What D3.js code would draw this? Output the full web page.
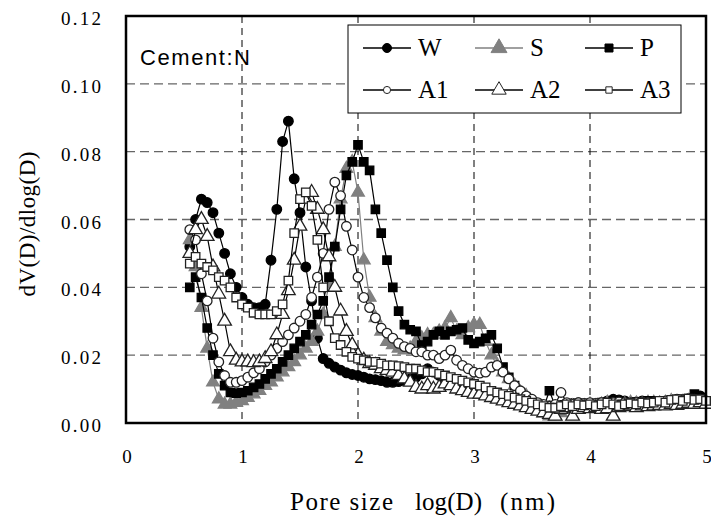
<!DOCTYPE html>
<html>
<head>
<meta charset="utf-8">
<script src="https://cdn.jsdelivr.net/npm/d3@7"></script>
<style>
  body { margin: 0; background: #fff; }
  svg { display: block; }
</style>
</head>
<body>
<div id="chart"></div>
<script>
// log(D) grid shared by all six curves
const logD = [
  0.55, 0.60, 0.65, 0.70, 0.75, 0.80, 0.85, 0.90, 0.95, 1.00,
  1.05, 1.10, 1.15, 1.20, 1.25, 1.30, 1.35, 1.40, 1.45, 1.50,
  1.55, 1.60, 1.65, 1.70, 1.75, 1.80, 1.85, 1.90, 1.95, 2.00,
  2.05, 2.10, 2.15, 2.20, 2.25, 2.30, 2.35, 2.40, 2.45, 2.50,
  2.55, 2.60, 2.65, 2.70, 2.75, 2.80, 2.85, 2.90, 2.95, 3.00,
  3.05, 3.10, 3.15, 3.20, 3.25, 3.30, 3.35, 3.40, 3.45, 3.50,
  3.55, 3.60, 3.65, 3.70, 3.75, 3.80, 3.85, 3.90, 3.95, 4.00,
  4.05, 4.10, 4.15, 4.20, 4.25, 4.30, 4.35, 4.40, 4.45, 4.50,
  4.55, 4.60, 4.65, 4.70, 4.75, 4.80, 4.85, 4.90, 4.95, 5.00
];

const W = [
  0.052, 0.060, 0.066, 0.065, 0.062, 0.056, 0.050, 0.044, 0.040, 0.037,
  0.035, 0.034, 0.034, 0.035, 0.048, 0.063, 0.083, 0.089, 0.072, 0.062,
  0.046, 0.036, 0.025, 0.019, 0.0176, 0.0165, 0.0156, 0.0148, 0.0143, 0.014,
  0.0135, 0.013, 0.0128, 0.0125, 0.012, 0.012, 0.0122, 0.0125, 0.013, 0.0135,
  0.0145, 0.016, 0.015, 0.014, 0.013, 0.0125, 0.012, 0.0115, 0.011, 0.0105,
  0.010, 0.0095, 0.009, 0.0085, 0.008, 0.0075, 0.007, 0.0065, 0.006, 0.0058,
  0.0055, 0.0052, 0.005, 0.005, 0.0052, 0.0055, 0.0058, 0.006, 0.0058, 0.0056,
  0.0058, 0.006, 0.0065, 0.007, 0.0068, 0.0065, 0.006, 0.0062, 0.0065, 0.006,
  0.0062, 0.0064, 0.006, 0.0065, 0.007, 0.0068, 0.0072, 0.0075, 0.008, 0.0065
];

const S = [
  0.054, 0.046, 0.034, 0.022, 0.012, 0.007, 0.0055, 0.0055, 0.006, 0.0065,
  0.0075, 0.0085, 0.0095, 0.011, 0.012, 0.0135, 0.015, 0.0165, 0.018, 0.020,
  0.022, 0.024, 0.027, 0.032, 0.041, 0.052, 0.066, 0.075, 0.077, 0.068,
  0.048, 0.037, 0.031, 0.027, 0.024, 0.023, 0.022, 0.0215, 0.022, 0.024,
  0.025, 0.026, 0.026, 0.027, 0.028, 0.031, 0.027, 0.026, 0.028, 0.029,
  0.029, 0.024, 0.020, 0.017, 0.015, 0.013, 0.011, 0.009, 0.008, 0.006,
  0.005, 0.003, 0.002, 0.002, 0.003, 0.004, 0.005, 0.0045, 0.005, 0.0055,
  0.005, 0.0055, 0.006, 0.0055, 0.005, 0.0055, 0.006, 0.0058, 0.0055, 0.006,
  0.006, 0.0058, 0.006, 0.0065, 0.006, 0.0062, 0.0065, 0.006, 0.0062, 0.006
];

const P = [
  0.040, 0.043, 0.037, 0.028, 0.020, 0.0145, 0.011, 0.009, 0.0088, 0.009,
  0.0095, 0.0105, 0.0115, 0.013, 0.0145, 0.016, 0.018, 0.020, 0.022, 0.024,
  0.026, 0.029, 0.032, 0.036, 0.043, 0.052, 0.063, 0.073, 0.077, 0.082,
  0.077, 0.0745, 0.063, 0.056, 0.048, 0.040, 0.033, 0.029, 0.0275, 0.027,
  0.023, 0.024, 0.026, 0.027, 0.026, 0.027, 0.0275, 0.028, 0.0245, 0.0235,
  0.024, 0.025, 0.026, 0.022, 0.0165, 0.0135, 0.011, 0.009, 0.0075, 0.006,
  0.005, 0.0045, 0.0095, 0.005, 0.004, 0.0045, 0.005, 0.0055, 0.0052, 0.0055,
  0.0055, 0.006, 0.006, 0.0065, 0.006, 0.0058, 0.006, 0.0062, 0.006, 0.0065,
  0.0065, 0.006, 0.0062, 0.0065, 0.0068, 0.007, 0.0072, 0.0085, 0.0075, 0.0065
];

const A1 = [
  0.057, 0.054, 0.044, 0.036, 0.025, 0.018, 0.014, 0.012, 0.012, 0.0125,
  0.0135, 0.0148, 0.016, 0.018, 0.020, 0.022, 0.024, 0.026, 0.028, 0.030,
  0.032, 0.037, 0.043, 0.050, 0.063, 0.071, 0.067, 0.058, 0.051, 0.043,
  0.037, 0.034, 0.031, 0.028, 0.0265, 0.025, 0.0235, 0.0225, 0.022, 0.021,
  0.021, 0.020, 0.020, 0.019, 0.020, 0.0215, 0.0185, 0.017, 0.016, 0.015,
  0.0147, 0.015, 0.0165, 0.017, 0.015, 0.013, 0.011, 0.0095, 0.008, 0.007,
  0.006, 0.0055, 0.005, 0.0055, 0.009, 0.006, 0.0055, 0.006, 0.0058, 0.006,
  0.0058, 0.006, 0.0055, 0.006, 0.0062, 0.006, 0.0058, 0.006, 0.0062, 0.006,
  0.006, 0.0062, 0.0065, 0.006, 0.0065, 0.0068, 0.0065, 0.007, 0.0068, 0.0065
];

const A2 = [
  0.050, 0.057, 0.060, 0.055, 0.046, 0.038, 0.030, 0.021, 0.0185, 0.018,
  0.018, 0.0178, 0.018, 0.019, 0.021, 0.026, 0.032, 0.039, 0.048, 0.058,
  0.066, 0.068, 0.063, 0.057, 0.049, 0.040, 0.033, 0.027, 0.023, 0.020,
  0.0185, 0.0175, 0.017, 0.016, 0.0155, 0.015, 0.014, 0.013, 0.012, 0.0105,
  0.010, 0.011, 0.010, 0.0105, 0.0115, 0.011, 0.010, 0.0095, 0.009, 0.0085,
  0.0085, 0.008, 0.0075, 0.007, 0.0065, 0.006, 0.0055, 0.005, 0.0045, 0.004,
  0.0035, 0.003, 0.0025, 0.002, 0.004, 0.0045, 0.002, 0.004, 0.0045, 0.0042,
  0.0045, 0.004, 0.0042, 0.002, 0.0045, 0.0048, 0.005, 0.0045, 0.005, 0.0048,
  0.005, 0.0052, 0.005, 0.0055, 0.0052, 0.0055, 0.0058, 0.0055, 0.006, 0.0055
];

const A3 = [
  0.047, 0.049, 0.047, 0.046, 0.045, 0.043, 0.042, 0.040, 0.037, 0.035,
  0.034, 0.0325, 0.032, 0.032, 0.032, 0.033, 0.035, 0.042, 0.056, 0.066,
  0.068, 0.064, 0.054, 0.040, 0.030, 0.025, 0.023, 0.021, 0.0195, 0.019,
  0.0185, 0.018, 0.018, 0.0175, 0.017, 0.017, 0.0168, 0.0165, 0.016, 0.016,
  0.0155, 0.015, 0.015, 0.0145, 0.014, 0.0135, 0.013, 0.0125, 0.012, 0.0115,
  0.011, 0.0105, 0.0095, 0.009, 0.0085, 0.008, 0.0075, 0.007, 0.0065, 0.006,
  0.0055, 0.005, 0.0045, 0.0045, 0.005, 0.0055, 0.005, 0.0055, 0.0052, 0.0055,
  0.005, 0.0055, 0.006, 0.0055, 0.005, 0.0055, 0.0058, 0.0055, 0.006, 0.0058,
  0.006, 0.0065, 0.006, 0.0068, 0.007, 0.0065, 0.0072, 0.0068, 0.007, 0.0065
];

const xTicks = [0, 1, 2, 3, 4, 5];
const yTicks = [0, 0.02, 0.04, 0.06, 0.08, 0.10, 0.12];
const seriesNames = ["W", "S", "P", "A1", "A2", "A3"];

(function() {
  const width = 711, height = 519;
  const left = 126, right = 706, top = 16, bottom = 423;
  const serif = "'Liberation Serif', 'Times New Roman', serif";

  const svg = d3.select("#chart").append("svg")
    .attr("width", width).attr("height", height);

  const x = d3.scaleLinear().domain([0, 5]).range([left, right]);
  const y = d3.scaleLinear().domain([0, 0.12]).range([bottom, top]);

  // grid: gray dashed horizontals, black dashed verticals
  svg.append("g").selectAll("line")
    .data(yTicks.filter(v => v > 0 && v < 0.12))
    .join("line")
    .attr("x1", left).attr("x2", right)
    .attr("y1", d => y(d)).attr("y2", d => y(d))
    .attr("stroke", "#666").attr("stroke-width", 1.3)
    .attr("stroke-dasharray", "9,5");

  svg.append("g").selectAll("line")
    .data(xTicks.filter(v => v > 0 && v < 5))
    .join("line")
    .attr("x1", d => x(d)).attr("x2", d => x(d))
    .attr("y1", top).attr("y2", bottom)
    .attr("stroke", "#000").attr("stroke-width", 1)
    .attr("stroke-dasharray", "7,5");

  // tick labels
  svg.append("g").selectAll("text")
    .data(yTicks)
    .join("text")
    .attr("x", 101).attr("y", d => y(d) + 9)
    .attr("text-anchor", "end")
    .attr("textLength", 40).attr("lengthAdjust", "spacing")
    .style("font-family", serif).style("font-size", "19px")
    .text(d => d.toFixed(2));

  svg.append("g").selectAll("text")
    .data(xTicks)
    .join("text")
    .attr("x", d => x(d) + 1).attr("y", 463)
    .attr("text-anchor", "middle")
    .style("font-family", serif).style("font-size", "19px")
    .text(d => d);

  // axis titles
  [["Pore size", 290, 103], ["log(D)", 415, 67], ["(nm)", 500, 55]].forEach(t => {
    svg.append("text")
      .attr("x", t[1]).attr("y", 510)
      .attr("textLength", t[2]).attr("lengthAdjust", "spacing")
      .style("font-family", serif).style("font-size", "25px")
      .text(t[0]);
  });

  svg.append("text")
    .attr("transform", "translate(35,224) rotate(-90)")
    .attr("text-anchor", "middle")
    .attr("textLength", 145).attr("lengthAdjust", "spacing")
    .style("font-family", serif).style("font-size", "23px")
    .text("dV(D)/dlog(D)");

  // series styles
  const styles = {
    W:  { values: W,  line: "#000", fill: "#000", stroke: "#000", shape: d3.symbolCircle, size: 72 },
    S:  { values: S,  line: "#808080", fill: "#808080", stroke: "#808080", shape: d3.symbolTriangle, size: 70 },
    P:  { values: P,  line: "#000", fill: "#000", stroke: "#000", shape: d3.symbolSquare, size: 70 },
    A1: { values: A1, line: "#000", fill: "#fff", stroke: "#222", shape: d3.symbolCircle, size: 72 },
    A2: { values: A2, line: "#000", fill: "#fff", stroke: "#222", shape: d3.symbolTriangle, size: 80 },
    A3: { values: A3, line: "#000", fill: "#fff", stroke: "#222", shape: d3.symbolSquare, size: 72 }
  };

  const line = d3.line()
    .x(d => x(d[0]))
    .y(d => y(d[1]));

  seriesNames.forEach(name => {
    const st = styles[name];
    const pts = logD.map((v, i) => [v, st.values[i]]);
    const g = svg.append("g");
    g.append("path")
      .datum(pts)
      .attr("d", line)
      .attr("fill", "none")
      .attr("stroke", st.line)
      .attr("stroke-width", 1.2);
    g.selectAll("path.m")
      .data(pts)
      .join("path")
      .attr("class", "m")
      .attr("transform", d => `translate(${x(d[0])},${y(d[1])})`)
      .attr("d", d3.symbol().type(st.shape).size(st.size))
      .attr("fill", st.fill)
      .attr("stroke", st.stroke)
      .attr("stroke-width", 1.3);
  });

  // Cement label
  svg.append("text")
    .attr("x", 140).attr("y", 65)
    .attr("textLength", 110).attr("lengthAdjust", "spacing")
    .style("font-family", "'Liberation Sans', Arial, sans-serif")
    .style("font-size", "22px")
    .text("Cement:N");

  // legend
  const legend = svg.append("g");
  legend.append("rect")
    .attr("x", 348).attr("y", 25).attr("width", 333).attr("height", 88)
    .attr("fill", "#fff").attr("stroke", "#000").attr("stroke-width", 1);

  const legendPos = [[363, 48], [475, 48], [585, 48], [363, 90], [475, 90], [585, 90]];
  const legendSizes = [64, 110, 64, 40, 90, 40];
  seriesNames.forEach((name, i) => {
    const st = styles[name];
    const [lx, ly] = legendPos[i];
    legend.append("line")
      .attr("x1", lx).attr("x2", lx + 48)
      .attr("y1", ly).attr("y2", ly)
      .attr("stroke", st.line).attr("stroke-width", 1.3);
    legend.append("path")
      .attr("transform", `translate(${lx + 24},${ly})`)
      .attr("d", d3.symbol().type(st.shape).size(legendSizes[i]))
      .attr("fill", st.fill).attr("stroke", st.stroke).attr("stroke-width", 1);
    legend.append("text")
      .attr("x", lx + 55).attr("y", ly + 8)
      .style("font-family", serif).style("font-size", "25px")
      .text(name);
  });

  // plot frame
  svg.append("rect")
    .attr("x", left).attr("y", top)
    .attr("width", right - left).attr("height", bottom - top)
    .attr("fill", "none").attr("stroke", "#000").attr("stroke-width", 2.5);
})();
</script>
</body>
</html>
